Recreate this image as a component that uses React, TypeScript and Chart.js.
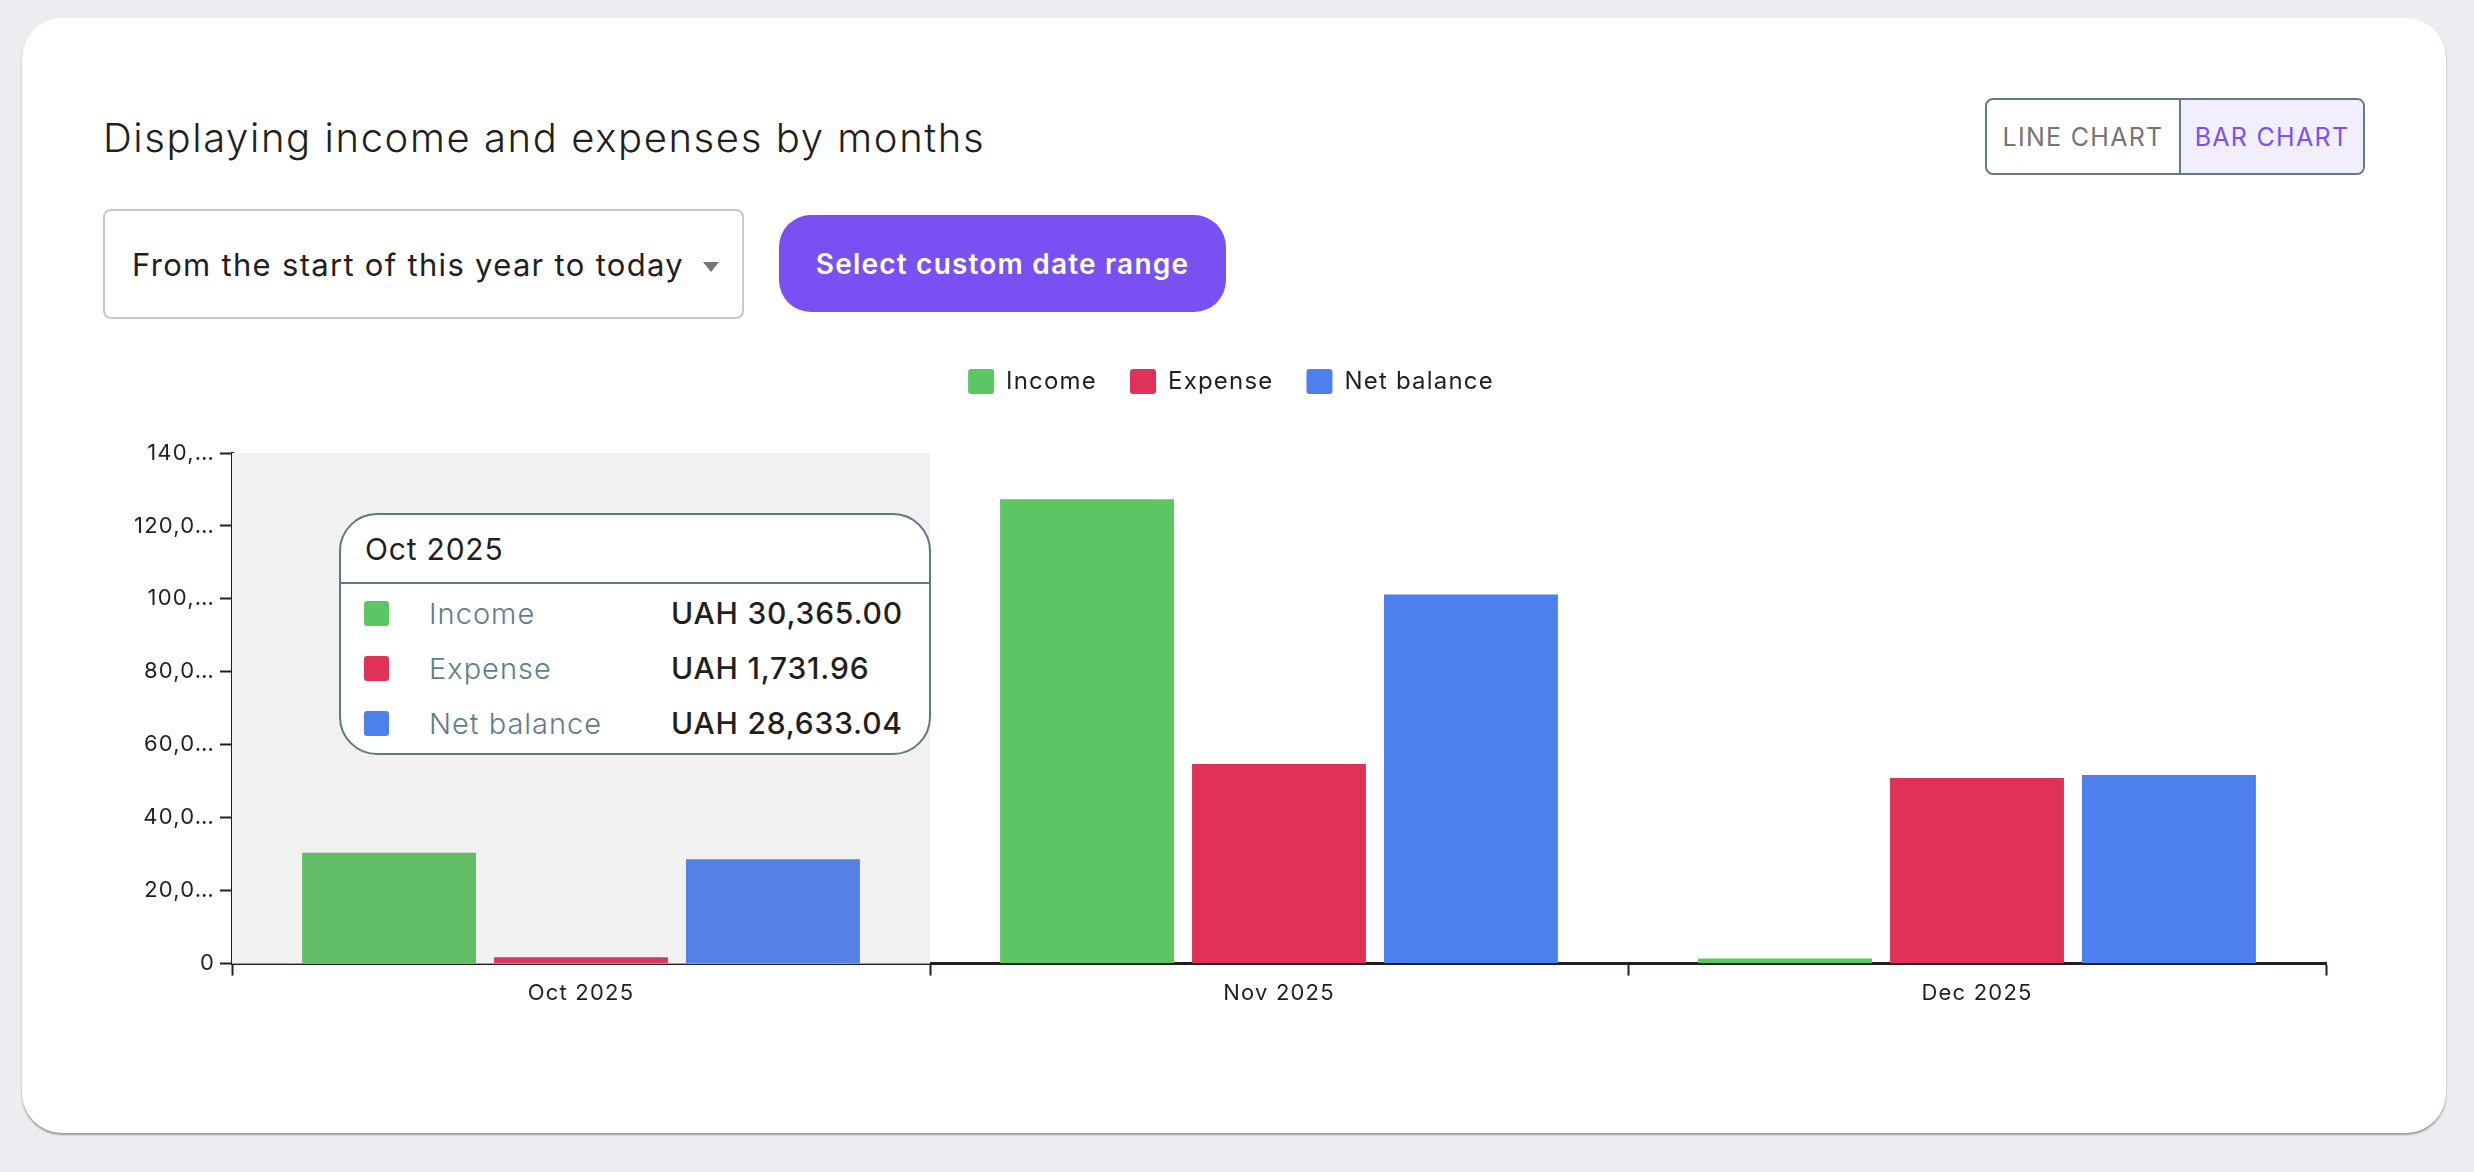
import React, { useEffect, useRef } from "react";
import { Chart, registerables } from "chart.js";

Chart.register(...registerables);

// ---------- Data ----------
const categories = ["Oct 2025", "Nov 2025", "Dec 2025"];
const seriesNames = ["Income", "Expense", "Net balance"];
const incomeValues = [30365.0, 127300.0, 1400.0];
const expenseValues = [1731.96, 54750.0, 50900.0];
const netBalanceValues = [28633.04, 101183.04, 51683.04];
const yTickValues = [0, 20000, 40000, 60000, 80000, 100000, 120000, 140000];
const yTickLabels = ["0", "20,0…", "40,0…", "60,0…", "80,0…", "100,…", "120,0…", "140,…"];
const currencyCode = "UAH";
const hoveredIndex = 0;

// ---------- Styles ----------
const FONT = "Inter, 'Noto Sans', 'DejaVu Sans', sans-serif";
const TEXT = "#231F20";
const seriesColors = ["#5CC564", "#E03159", "#4D80EC"];
const seriesHoverColors = ["#61BE67", "#D8375F", "#5481E3"];
const CANVAS_LETTER_SPACING = "1.2px";
const LEGEND_PADDING = 33;

const letterSpacingPlugin = {
  id: "letterSpacing",
  beforeUpdate(chart: any) {
    (chart.ctx as any).letterSpacing = CANVAS_LETTER_SPACING;
  },
  beforeLayout(chart: any) {
    (chart.ctx as any).letterSpacing = CANVAS_LETTER_SPACING;
  },
  beforeDraw(chart: any) {
    (chart.ctx as any).letterSpacing = CANVAS_LETTER_SPACING;
  },
};

const hoverBandPlugin = {
  id: "hoverBand",
  beforeDatasetsDraw(chart: any) {
    const { ctx, chartArea, scales } = chart;
    const x = scales.x;
    const step = x.width / categories.length;
    const cx = x.getPixelForValue(hoveredIndex);
    ctx.save();
    ctx.fillStyle = "#F1F1F1";
    ctx.fillRect(cx - step / 2, chartArea.top, step, chartArea.bottom - chartArea.top);
    ctx.restore();
  },
};

const legendSpacingPlugin = {
  id: "legendSpacing",
  beforeInit(chart: any) {
    const legend = chart.legend;
    if (!legend) return;
    const orig = legend.fit;
    legend.fit = function () {
      orig.call(this);
      this.height += 49;
      if (Array.isArray(this.lineWidths)) {
        this.lineWidths = this.lineWidths.map((w: number) => w - LEGEND_PADDING);
      }
    };
  },
};

function fmt(v: number) {
  return currencyCode + " " + v.toLocaleString("en-US", { minimumFractionDigits: 2, maximumFractionDigits: 2 });
}

export default function App() {
  const canvasRef = useRef<HTMLCanvasElement | null>(null);

  useEffect(() => {
    if (!canvasRef.current) return;
    Chart.defaults.font.family = FONT;
    const seriesValues = [incomeValues, expenseValues, netBalanceValues];
    const chart = new Chart(canvasRef.current, {
      type: "bar",
      data: {
        labels: categories,
        datasets: seriesNames.map((name, i) => ({
          label: name,
          data: seriesValues[i],
          backgroundColor: categories.map((_, j) => (j === hoveredIndex ? seriesHoverColors[i] : seriesColors[i])),
          borderWidth: 0,
          categoryPercentage: 0.825,
          barPercentage: 0.906,
        })),
      },
      options: {
        responsive: true,
        maintainAspectRatio: false,
        animation: false,
        layout: { padding: { top: 0, right: 39, bottom: 0, left: 0 } },
        plugins: {
          legend: {
            display: true,
            position: "top",
            labels: {
              boxWidth: 26,
              boxHeight: 25,
              useBorderRadius: true,
              borderRadius: 3,
              padding: LEGEND_PADDING,
              color: TEXT,
              font: { size: 24, family: FONT },
              generateLabels: (c: any) =>
                c.data.datasets.map((ds: any, i: number) => ({
                  text: ds.label,
                  fillStyle: seriesColors[i],
                  strokeStyle: seriesColors[i],
                  lineWidth: 0,
                  hidden: false,
                  datasetIndex: i,
                  borderRadius: 3,
                  fontColor: TEXT,
                })),
            },
          },
          tooltip: { enabled: false },
        },
        scales: {
          x: {
            grid: {
              display: true,
              drawOnChartArea: false,
              drawTicks: true,
              tickLength: 12,
              tickWidth: 2,
              tickColor: TEXT,
              offset: true,
            },
            border: { display: true, width: 3, color: TEXT },
            ticks: { color: TEXT, font: { size: 22, family: FONT }, padding: 5 },
          },
          y: {
            min: 0,
            max: 140000,
            afterBuildTicks: (scale: any) => {
              scale.ticks = yTickValues.map((v) => ({ value: v }));
            },
            afterFit: (scale: any) => {
              scale.width = 129;
            },
            grid: {
              display: true,
              drawOnChartArea: false,
              drawTicks: true,
              tickLength: 12,
              tickWidth: 2,
              tickColor: TEXT,
            },
            border: { display: true, width: 3, color: TEXT },
            ticks: {
              color: TEXT,
              font: { size: 22, family: FONT },
              padding: 5,
              callback: (value: any) => {
                const idx = yTickValues.indexOf(Number(value));
                return idx >= 0 ? yTickLabels[idx] : "";
              },
            },
          },
        },
      },
      plugins: [letterSpacingPlugin, hoverBandPlugin, legendSpacingPlugin],
    } as any);
    return () => chart.destroy();
  }, []);

  const tipValues = [incomeValues[hoveredIndex], expenseValues[hoveredIndex], netBalanceValues[hoveredIndex]];

  return (
    <div style={{ position: "fixed", inset: 0, background: "#ECEDF0", fontFamily: FONT, color: TEXT }}>
      <div
        style={{
          position: "absolute",
          left: 22,
          top: 18,
          width: 2424,
          height: 1115,
          background: "#FFFFFF",
          borderRadius: 40,
          boxShadow: "0 2px 2px rgba(0,0,0,0.35)",
        }}
      />
      <div
        style={{
          position: "absolute",
          left: 103,
          top: 114,
          fontSize: 40,
          fontWeight: 300,
          lineHeight: "48px",
          letterSpacing: "1.6px",
          whiteSpace: "nowrap",
          color: TEXT,
        }}
      >
        Displaying income and expenses by months
      </div>

      {/* Toggle */}
      <div
        style={{
          position: "absolute",
          left: 1985,
          top: 98,
          width: 380,
          height: 77,
          boxSizing: "border-box",
          border: "2px solid #627A89",
          borderRadius: 8,
          display: "flex",
          overflow: "hidden",
          fontSize: 25,
          letterSpacing: "1.3px",
        }}
      >
        <div
          style={{
            width: 192,
            display: "flex",
            alignItems: "center",
            justifyContent: "center",
            color: "#757575",
            borderRight: "2px solid #627A89",
          }}
        >
          LINE CHART
        </div>
        <div
          style={{
            flex: 1,
            display: "flex",
            alignItems: "center",
            justifyContent: "center",
            color: "#7B4FF5",
            background: "#F1EFFD",
          }}
        >
          BAR CHART
        </div>
      </div>

      {/* Dropdown */}
      <div
        style={{
          position: "absolute",
          left: 103,
          top: 209,
          width: 641,
          height: 110,
          boxSizing: "border-box",
          border: "2px solid #C8C8C8",
          borderRadius: 8,
          display: "flex",
          alignItems: "center",
          paddingLeft: 27,
          fontSize: 31,
          letterSpacing: "1.3px",
          whiteSpace: "nowrap",
          color: TEXT,
        }}
      >
        From the start of this year to today
        <div
          style={{
            position: "absolute",
            left: 598,
            top: 51,
            width: 0,
            height: 0,
            borderLeft: "8px solid transparent",
            borderRight: "8px solid transparent",
            borderTop: "10px solid #757575",
          }}
        />
      </div>

      {/* Button */}
      <div
        style={{
          position: "absolute",
          left: 779,
          top: 215,
          width: 447,
          height: 97,
          borderRadius: 32,
          background: "#7950F2",
          color: "#FFFFFF",
          fontSize: 28,
          fontWeight: 600,
          letterSpacing: "1.2px",
          display: "flex",
          alignItems: "center",
          justifyContent: "center",
          whiteSpace: "nowrap",
        }}
      >
        Select custom date range
      </div>

      {/* Chart */}
      <div style={{ position: "absolute", left: 103, top: 336, width: 2262, height: 676 }}>
        <canvas ref={canvasRef} />
      </div>

      {/* Tooltip */}
      <div
        style={{
          position: "absolute",
          left: 339,
          top: 513,
          width: 592,
          height: 242,
          boxSizing: "border-box",
          border: "2px solid #5F7886",
          borderRadius: 38,
          background: "#FFFFFF",
        }}
      >
        <div
          style={{
            height: 67,
            borderBottom: "2px solid #5F7886",
            display: "flex",
            alignItems: "center",
            paddingLeft: 24,
            fontSize: 30,
            letterSpacing: "0.8px",
            color: TEXT,
          }}
        >
          {categories[hoveredIndex]}
        </div>
        {seriesNames.map((name, i) => (
          <div
            key={name}
            style={{ position: "absolute", left: 0, top: 76 + i * 55, height: 44, width: "100%", display: "flex", alignItems: "center" }}
          >
            <div
              style={{
                position: "absolute",
                left: 23,
                top: 10,
                width: 25,
                height: 25,
                borderRadius: 3,
                background: seriesColors[i],
              }}
            />
            <div
              style={{
                position: "absolute",
                left: 88,
                fontSize: 29,
                fontWeight: 300,
                letterSpacing: "1px",
                color: "#607D8B",
                whiteSpace: "nowrap",
              }}
            >
              {name}
            </div>
            <div
              style={{
                position: "absolute",
                left: 330,
                fontSize: 30,
                fontWeight: 500,
                letterSpacing: "0.8px",
                color: TEXT,
                whiteSpace: "nowrap",
              }}
            >
              {fmt(tipValues[i])}
            </div>
          </div>
        ))}
      </div>
    </div>
  );
}
